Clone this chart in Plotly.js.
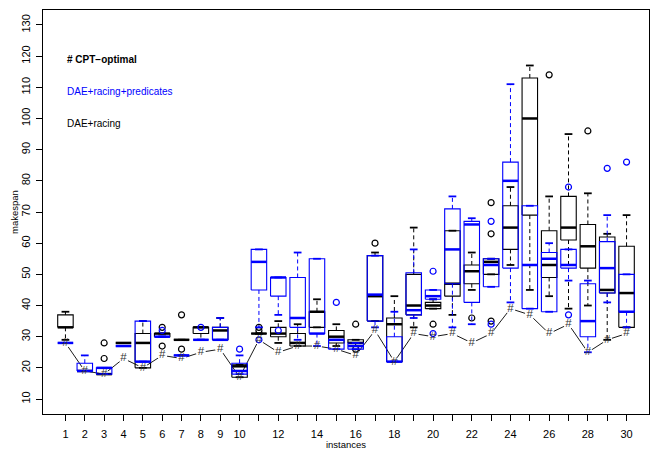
<!DOCTYPE html>
<html><head><meta charset="utf-8">
<script src="https://cdn.plot.ly/plotly-3.0.1.min.js"></script>
<style>html,body{margin:0;padding:0;background:#fff}#chart{width:651px;height:450px}</style>
</head><body><div id="chart"></div>
<script>
const instances = [1,2,3,4,5,6,7,8,9,10,11,12,13,14,15,16,17,18,19,20,21,22,23,24,25,26,27,28,29,30];
const tickLabels = ["1","2","3","4","5","6","7","8","9","10","","12","","14","","16","","18","","20","","22","","24","","26","","28","","30"];
const cptOptimal = [28,19,18,23,20,24,23,25,26,17,29,25,27,27,26,24,32,22,31,30,31,28,31,39,37,31,34,25,29,31];

// DAE+racing (black)
const racingLo  = [29,19,18,28,20,30,29,29,29,17,31,28,27,33,27,27,35,22,33,39,37,45,50,53,45,43,39,40,29,33];
const racingQ1  = [33,19,18,28,20,30,29,31,29,17,31,30,27,33,28,28,35,22,37,39,43,47,50,58,69,49,61,52,44,33];
const racingMed = [33,19,18,28,28,31,29,33,32,20.5,31,31,28,38,30,28,43,34,40,40,47,51,54,65,100,53,65,59,45,44];
const racingQ3  = [37,19,18,28,31,31,29,33,33,21,31,33,31,38,32,29,56,36,50,41,64,53,55,72,113,64,75,66,62,59];
const racingHi  = [38,19,18,28,35,31,29,33,36,21,31,35,34,42,34,29,57,43,65,42,64,57,55,78,117,75,95,76,63,69];
const racingOut = [[],[],[23,28],[],[],[33,27],[37,26],[],[],[],[32,33],[],[],[],[],[34,26],[60],[],[],[34],[],[36],[73,63,35],[],[],[114],[],[96],[],[]];

// DAE+racing+predicates (blue)
const predLo  = [28,19,18,27,22,30,24,29,29,18,33,37,29,27,26,26,33,22,36,42,33,34,46,41,39,38,48,25,41,33];
const predQ1  = [28,19,18,27,22,30,24,29,29,18,45,43,33,31,26,26,35,22,37,42,47,41,46,52,39,38,52,30,44,38];
const predMed = [28,19,20,27,22,30,24,29,29,19,54,49,36,31,29,27,43.5,22,38.5,43,58,66,53,80,53,55,53,35,52,38];
const predQ3  = [28,21.5,20,27,35,30,24,29,33,21.5,58,49,49,55,29,28,56,30,50.5,45,71,67,55,86,72,57,58,47,60.5,50];
const predHi  = [28,24,20,27,35,30,24,29,36,24,58,49,57,55,29,28,56,38,58,45,75,68,55,111,72,60,58,48,69,50];
const predOut = [[],[],[],[],[],[32],[],[33],[],[26],[29],[32],[],[],[41],[],[],[],[],[51,31],[],[],[67,34],[],[],[],[78,37],[],[84],[86]];

const legendLabels = ["# CPT\u2212optimal","DAE+racing+predicates","DAE+racing"];
const legendY = [119,108.7,98.5];

const BW = 0.4, SW = 0.2;
function seriesTraces(color, lo, q1, med, q3, hi, outs) {
  const bx=[],by=[],mx=[],my=[],wx=[],wy=[],sx=[],sy=[],ox=[],oy=[];
  instances.forEach((x,i)=>{
    bx.push(x-BW,x+BW,x+BW,x-BW,x-BW,null); by.push(q1[i],q1[i],q3[i],q3[i],q1[i],null);
    mx.push(x-BW,x+BW,null); my.push(med[i],med[i],null);
    if (hi[i]>q3[i]) { wx.push(x,x,null); wy.push(q3[i],hi[i],null); }
    if (lo[i]<q1[i]) { wx.push(x,x,null); wy.push(q1[i],lo[i],null); }
    sx.push(x-SW,x+SW,null,x-SW,x+SW,null); sy.push(hi[i],hi[i],null,lo[i],lo[i],null);
    outs[i].forEach(v=>{ox.push(x); oy.push(v);});
  });
  const base = {type:'scatter', hoverinfo:'skip', showlegend:false};
  return [
    Object.assign({}, base, {x:wx,y:wy,mode:'lines',line:{color:color,width:1,dash:'4px,3px'}}),
    Object.assign({}, base, {x:bx,y:by,mode:'lines',line:{color:color,width:1.1}}),
    Object.assign({}, base, {x:sx,y:sy,mode:'lines',line:{color:color,width:1.8}}),
    Object.assign({}, base, {x:mx,y:my,mode:'lines',line:{color:color,width:2.5}}),
    Object.assign({}, base, {x:ox,y:oy,mode:'markers',marker:{symbol:'circle-open',size:6,color:color,line:{width:1.2,color:color}}})
  ];
}

const traces = [];
traces.push({type:'scatter',x:instances,y:cptOptimal,mode:'lines+markers',line:{color:'#000',width:0.9},
  marker:{color:'#fff',size:10,line:{width:0}},hoverinfo:'skip',showlegend:false});
traces.push(...seriesTraces('#000000', racingLo, racingQ1, racingMed, racingQ3, racingHi, racingOut));
traces.push(...seriesTraces('#0000ff', predLo, predQ1, predMed, predQ3, predHi, predOut));
traces.push({type:'scatter',x:instances,y:cptOptimal,mode:'text',text:instances.map(()=>'#'),
  textposition:'middle center',textfont:{family:'Liberation Sans, Arial, sans-serif',size:11.5,color:'#333'},
  hoverinfo:'skip',showlegend:false});

const fnt = 'Liberation Sans, Arial, sans-serif';
const legendColors = ['#000000','#0000ff','#000000'];
const annotations = legendLabels.map((t,i)=>({
  x:1, y:legendY[i], xref:'x', yref:'y', xanchor:'left', yanchor:'middle', showarrow:false,
  text: i===0 ? '<b>'+t+'</b>' : t, font:{family:fnt,size:10,color:legendColors[i]}
}));
annotations.push({x:0, y:0.5, xref:'paper', yref:'paper', xshift:-29, xanchor:'center', yanchor:'middle',
  textangle:-90, showarrow:false, text:'makespan', font:{family:fnt,size:9.5,color:'#000'}});

const layout = {
  width:651, height:450,
  margin:{l:43,r:2,t:10,b:36},
  paper_bgcolor:'#fff', plot_bgcolor:'#fff',
  showlegend:false,
  font:{family:fnt,color:'#000'},
  xaxis:{range:[-0.16,31.16], tickmode:'array', tickvals:instances, ticktext:tickLabels,
    ticks:'outside', ticklen:6, tickwidth:1, tickcolor:'#000', ticklabelstandoff:4,
    showline:true, mirror:true, linecolor:'#000', linewidth:1,
    showgrid:false, zeroline:false, tickfont:{family:fnt,size:11,color:'#000'},
    title:{text:'instances', font:{family:fnt,size:9.5,color:'#000'}, standoff:5}},
  yaxis:{range:[5.2,134.8], tickmode:'array', tickvals:[10,20,30,40,50,60,70,80,90,100,110,120,130],
    tickangle:-90, ticks:'outside', ticklen:6, tickwidth:1, tickcolor:'#000', ticklabelstandoff:2,
    showline:true, mirror:true, linecolor:'#000', linewidth:1,
    showgrid:false, zeroline:false, tickfont:{family:fnt,size:11,color:'#000'}},
  annotations: annotations
};
Plotly.newPlot('chart', traces, layout, {displayModeBar:false, staticPlot:true});
</script></body></html>
